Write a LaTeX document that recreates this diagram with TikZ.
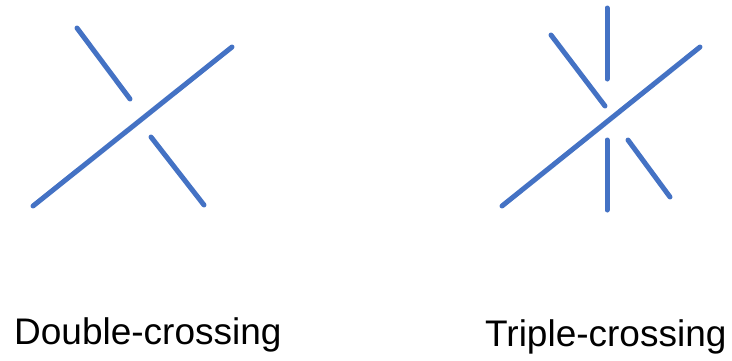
\documentclass[tikz,border=0pt]{standalone}
\usepackage{fontspec}
\setmainfont{Liberation Sans}
\definecolor{strandblue}{RGB}{68,114,196}
\begin{document}
\begin{tikzpicture}[x=1pt,y=-1pt,
  strand/.style={draw=strandblue,line width=5pt,line cap=round},
  caption/.style={anchor=base west,inner sep=0pt,font=\fontsize{37}{40}\selectfont}]
  \useasboundingbox (0,0) rectangle (732,360);
  % double crossing
  \coordinate (dA) at (33,206);
  \coordinate (dB) at (232,47);
  \coordinate (dC) at (77,28);
  \coordinate (dD) at (130,99);
  \coordinate (dE) at (151,137);
  \coordinate (dF) at (204,205);
  \draw[strand] (dA) -- (dB);
  \draw[strand] (dC) -- (dD);
  \draw[strand] (dE) -- (dF);
  % triple crossing
  \coordinate (tA) at (502,206);
  \coordinate (tB) at (700,47);
  \coordinate (tC) at (551,35);
  \coordinate (tD) at (605,106);
  \coordinate (tE) at (607,8);
  \coordinate (tF) at (607,79);
  \coordinate (tG) at (607,140);
  \coordinate (tH) at (607,210);
  \coordinate (tI) at (628,140);
  \coordinate (tJ) at (670,197);
  \draw[strand] (tA) -- (tB);
  \draw[strand] (tC) -- (tD);
  \draw[strand] (tE) -- (tF);
  \draw[strand] (tG) -- (tH);
  \draw[strand] (tI) -- (tJ);
  \node[caption] (double) at (14,344) {Double-crossing};
  \node[caption] (triple) at (485,346) {Triple-crossing};
\end{tikzpicture}
\end{document}
